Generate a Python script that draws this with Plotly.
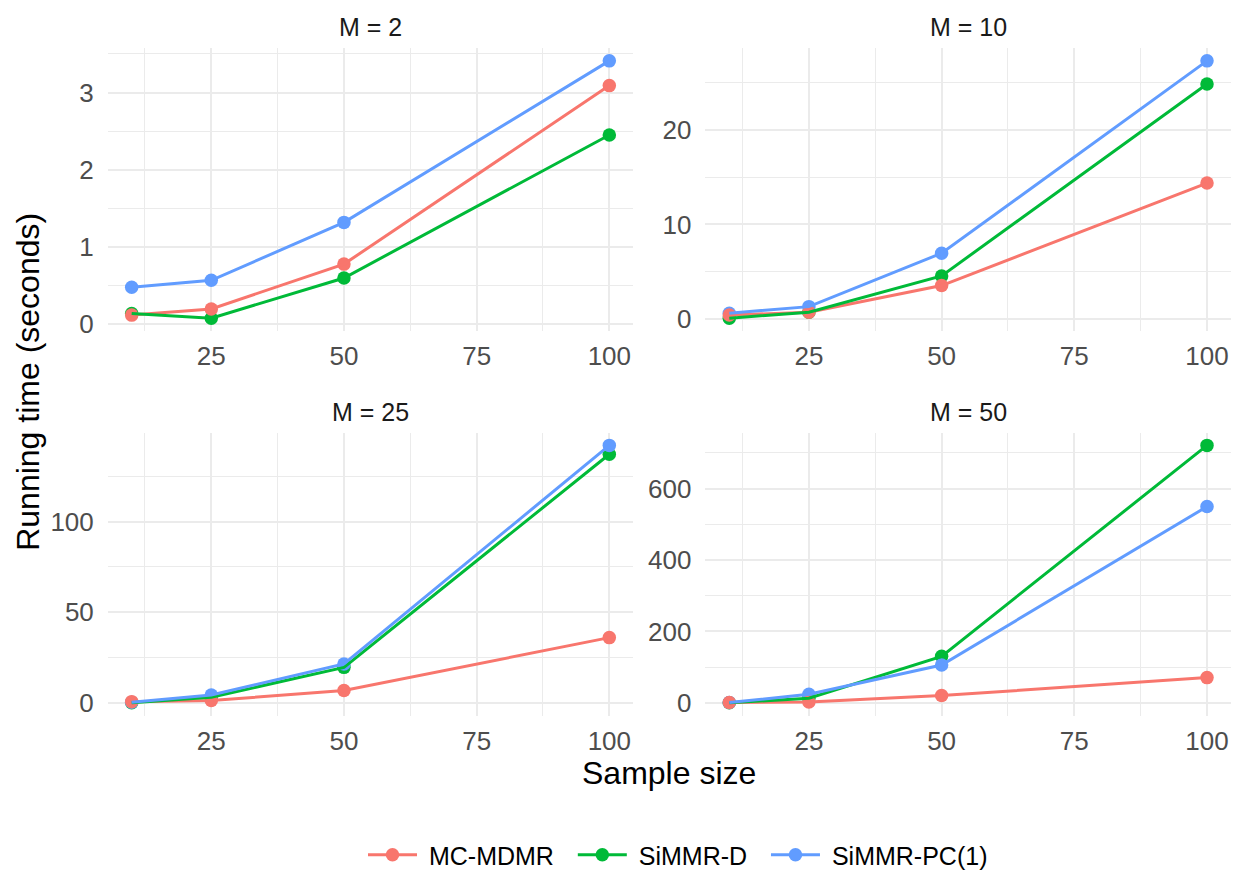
import plotly.graph_objects as go

# ---------------- data ----------------
sample_sizes = [10, 25, 50, 100]
methods = ["MC-MDMR", "SiMMR-D", "SiMMR-PC(1)"]
colors = {"MC-MDMR": "#F8766D", "SiMMR-D": "#00BA38", "SiMMR-PC(1)": "#619CFF"}
panel_titles = ["M = 2", "M = 10", "M = 25", "M = 50"]

m2_mc = [0.12, 0.20, 0.78, 3.09]
m2_d = [0.14, 0.08, 0.60, 2.45]
m2_pc = [0.48, 0.57, 1.32, 3.41]

m10_mc = [0.45, 0.75, 3.56, 14.37]
m10_d = [0.12, 0.75, 4.58, 24.82]
m10_pc = [0.65, 1.34, 6.97, 27.25]

m25_mc = [0.7, 1.3, 6.8, 36.0]
m25_d = [0.1, 3.1, 19.6, 137.1]
m25_pc = [0.4, 4.4, 21.5, 142.0]

m50_mc = [1.0, 2.8, 20.5, 70.8]
m50_d = [0.5, 13.0, 130.4, 721.0]
m50_pc = [1.0, 24.2, 106.2, 549.7]

x_ticks = [25, 50, 75, 100]
x_minor = [12.5, 37.5, 62.5, 87.5]
y_ticks = [[0, 1, 2, 3], [0, 10, 20], [0, 50, 100], [0, 200, 400, 600]]
y_minor = [[0.5, 1.5, 2.5, 3.5], [5, 15, 25], [25, 75, 125], [100, 300, 500, 700]]

panels = [
    {"MC-MDMR": m2_mc, "SiMMR-D": m2_d, "SiMMR-PC(1)": m2_pc},
    {"MC-MDMR": m10_mc, "SiMMR-D": m10_d, "SiMMR-PC(1)": m10_pc},
    {"MC-MDMR": m25_mc, "SiMMR-D": m25_d, "SiMMR-PC(1)": m25_pc},
    {"MC-MDMR": m50_mc, "SiMMR-D": m50_d, "SiMMR-PC(1)": m50_pc},
]

# ---------------- layout geometry ----------------
W, H = 1235, 878
FONT = "Liberation Sans, Arial, Helvetica, sans-serif"
GRID = "#EBEBEB"
TICKC = "#4D4D4D"
NBSP = "\u00a0"

x_px = [(107.8, 633.2), (705.4, 1230.9)]
y_px = [(48.5, 334.5), (437.0, 723.0)]

fig = go.Figure()

def ax_name(kind, i):
    return kind if i == 0 else f"{kind}{i + 1}"

for i, data in enumerate(panels):
    col, row = i % 2, i // 2
    xa, ya = ax_name("x", i), ax_name("y", i)
    # points first, then lines (as in reference)
    for m in ["SiMMR-D", "SiMMR-PC(1)", "MC-MDMR"]:
        fig.add_trace(go.Scatter(
            x=sample_sizes, y=data[m], mode="markers",
            marker=dict(color=colors[m], size=13.5),
            xaxis=xa, yaxis=ya, showlegend=False, hoverinfo="skip"))
    for m in methods:
        fig.add_trace(go.Scatter(
            x=sample_sizes, y=data[m], mode="lines",
            line=dict(color=colors[m], width=3),
            xaxis=xa, yaxis=ya, showlegend=False, name=m))

    allv = [v for m in methods for v in data[m]]
    lo, hi = min(allv), max(allv)
    pad = 0.05 * (hi - lo)
    xlo, xhi = min(sample_sizes), max(sample_sizes)
    xpad = 0.05 * (xhi - xlo)

    x0, x1 = x_px[col]
    yt, yb = y_px[row]
    key_x = "xaxis" if i == 0 else f"xaxis{i + 1}"
    key_y = "yaxis" if i == 0 else f"yaxis{i + 1}"
    fig.update_layout(**{
        key_x: dict(domain=[x0 / W, x1 / W], anchor=ya, range=[xlo - xpad, xhi + xpad],
                    tickmode="array", tickvals=x_ticks, ticks="", showline=False,
                    zeroline=False, showgrid=True, gridcolor=GRID, gridwidth=2,
                    minor=dict(tickvals=x_minor, showgrid=True, gridcolor=GRID, gridwidth=1),
                    tickfont=dict(family=FONT, size=26, color=TICKC),
                    ticklabelstandoff=7),
        key_y: dict(domain=[1 - yb / H, 1 - yt / H], anchor=xa, range=[lo - pad, hi + pad],
                    tickmode="array", tickvals=y_ticks[i], ticks="", showline=False,
                    zeroline=False, showgrid=True, gridcolor=GRID, gridwidth=2,
                    minor=dict(tickvals=y_minor[i], showgrid=True, gridcolor=GRID, gridwidth=1),
                    tickfont=dict(family=FONT, size=26, color=TICKC),
                    ticklabelstandoff=13),
    })
    fig.add_annotation(text=panel_titles[i], xref="paper", yref="paper",
                       x=(x0 + x1) / 2 / W, y=1 - (yt - 21) / H,
                       xanchor="center", yanchor="middle", showarrow=False,
                       font=dict(family=FONT, size=25, color="#1A1A1A"))

# legend entries
for m in methods:
    fig.add_trace(go.Scatter(x=[None], y=[None], mode="lines+markers",
                             name=NBSP + m + NBSP * 2,
                             line=dict(color=colors[m], width=3),
                             marker=dict(color=colors[m], size=13.5),
                             xaxis="x", yaxis="y", showlegend=True))

# axis titles
fig.add_annotation(text="Sample size", xref="paper", yref="paper",
                   x=(x_px[0][0] + x_px[1][1]) / 2 / W, y=1 - 781 / H,
                   xanchor="center", yanchor="middle", showarrow=False,
                   font=dict(family=FONT, size=32, color="black"))
fig.add_annotation(text="Running time (seconds)", xref="paper", yref="paper",
                   x=28 / W, y=1 - (y_px[0][0] + y_px[1][1]) / 2 / H,
                   xanchor="center", yanchor="middle", showarrow=False, textangle=-90,
                   font=dict(family=FONT, size=32, color="black"))

fig.update_layout(
    width=W, height=H, margin=dict(l=0, r=0, t=0, b=0),
    paper_bgcolor="white", plot_bgcolor="white",
    font=dict(family=FONT, color="black"),
    legend=dict(orientation="h", x=363 / W, xanchor="left", y=1 - 864 / H, yanchor="middle",
                font=dict(family=FONT, size=25, color="black"),
                itemwidth=49, tracegroupgap=0, bgcolor="rgba(0,0,0,0)"),
)

fig.write_html("out.html")
